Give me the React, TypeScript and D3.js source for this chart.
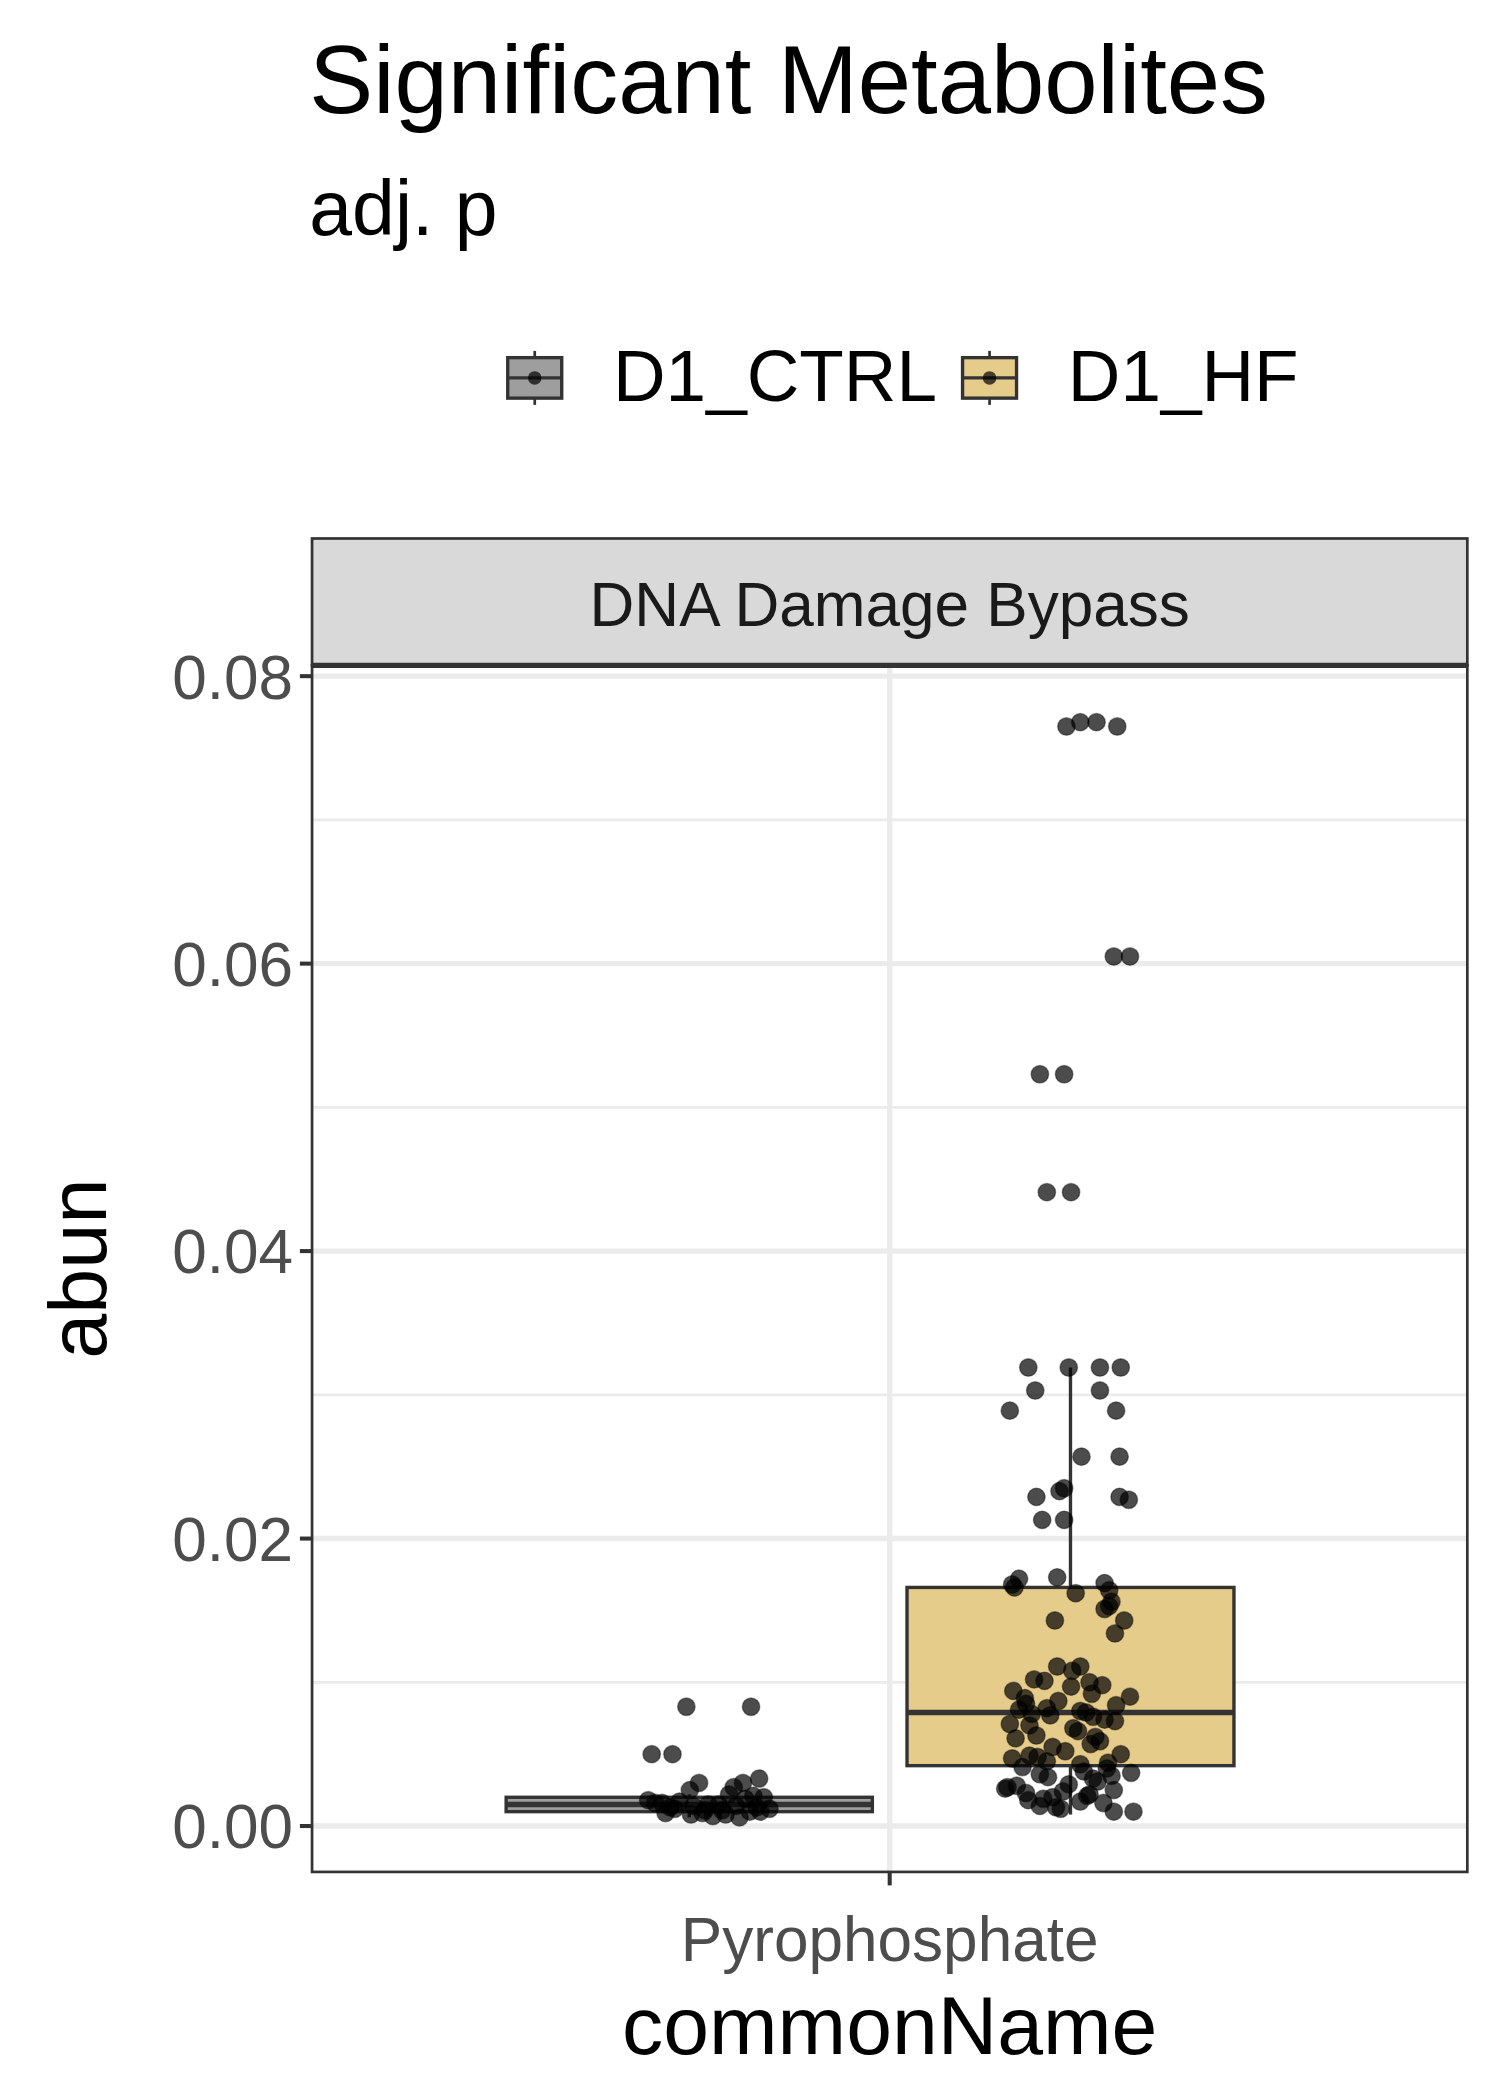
import React from "react";
import * as d3 from "d3";

const groups = ["D1_CTRL", "D1_HF"];
const colors = ["#9e9e9e", "#e6cc8a"];
const boxOffsets = [[-0.332, -0.015], [0.015, 0.298]];
// q1, median, q3, whiskerLow, whiskerHigh
const boxStats = [[0.001, 0.0015, 0.002, 0.0006, 0.0022], [0.0042, 0.0079, 0.0166, 0.0008, 0.0319]];
const yTicks = [0, 0.02, 0.04, 0.06, 0.08];
const yMinor = [0.01, 0.03, 0.05, 0.07];

const ctrlVals = [0.0083,0.0083,0.005,0.005,0.003,0.003,0.0033,0.0025,0.0022,0.002,0.0018,0.0016,0.0015,0.0014,0.0012,0.0011,0.001,0.0009,0.0008,0.0007,0.0006,0.0012,0.0017,0.0009,0.0013,0.0016,0.0014,0.0011,0.0019,0.0008,0.0021,0.0013,0.0027,0.0010,0.0015];
const ctrlJit = [-0.176,-0.12,-0.206,-0.188,-0.165,-0.127,-0.113,-0.173,-0.139,-0.109,-0.209,-0.197,-0.157,-0.133,-0.186,-0.145,-0.121,-0.194,-0.172,-0.153,-0.13,-0.104,-0.182,-0.162,-0.115,-0.203,-0.17,-0.16,-0.125,-0.142,-0.118,-0.19,-0.135,-0.112,-0.148];
const hfVals = [0.0765,0.0768,0.0768,0.0765,0.0605,0.0605,0.0523,0.0523,0.0441,0.0441,0.0319,0.0319,0.0319,0.0319,0.0303,0.0303,0.0289,0.0289,0.0257,0.0257,0.0233,0.0235,0.0229,0.0229,0.0227,0.0213,0.0213,0.0173,0.0172,0.0168,0.0169,0.0164,0.0156,0.0151,0.0143,0.0143,0.0134,0.0111,0.0111,0.0102,0.01,0.0097,0.0094,0.0092,0.009,0.0085,0.0082,0.008,0.0078,0.0076,0.0073,0.0071,0.0068,0.0063,0.0059,0.0055,0.005,0.0047,0.0045,0.0043,0.004,0.0036,0.0033,0.0029,0.0026,0.0023,0.002,0.0017,0.0014,0.0012,0.001,0.001,0.0025,0.0037,0.0021,0.0018,0.0166,0.0162,0.0153,0.0108,0.0101,0.0098,0.0089,0.0087,0.0084,0.0081,0.0079,0.0077,0.0074,0.0070,0.0066,0.0061,0.0057,0.0052,0.0048,0.0044,0.0041,0.0038,0.0034,0.0031,0.0028,0.0024,0.0022,0.0019,0.0016,0.0013,0.0027,0.0035,0.0049,0.0062];
const hfJit = [0.153,0.165,0.179,0.197,0.194,0.208,0.13,0.151,0.136,0.157,0.12,0.155,0.182,0.2,0.126,0.182,0.104,0.196,0.166,0.199,0.147,0.151,0.127,0.199,0.207,0.132,0.151,0.145,0.112,0.106,0.186,0.19,0.192,0.186,0.143,0.203,0.195,0.145,0.165,0.125,0.173,0.157,0.107,0.175,0.208,0.118,0.136,0.165,0.123,0.176,0.195,0.104,0.159,0.127,0.182,0.141,0.2,0.106,0.136,0.165,0.188,0.13,0.176,0.155,0.1,0.118,0.141,0.165,0.13,0.148,0.194,0.211,0.194,0.209,0.171,0.12,0.108,0.161,0.19,0.158,0.134,0.184,0.117,0.146,0.196,0.112,0.17,0.139,0.186,0.121,0.163,0.109,0.174,0.152,0.128,0.189,0.115,0.168,0.137,0.18,0.11,0.15,0.173,0.133,0.185,0.144,0.102,0.192,0.121,0.178];

export default function App() {
  const L = 231, R = 1087, T = 493, B = 1387;
  const y = d3.scaleLinear().domain([0, 0.08]).range([1353, 501]);
  const x = d3.scaleLinear().domain([-0.5, 0.5]).range([L, R]);
  const font = "Liberation Sans, Arial, Helvetica, sans-serif";
  const pts = [
    ...ctrlVals.map((v, i) => ({ v, j: ctrlJit[i] })),
    ...hfVals.map((v, i) => ({ v, j: hfJit[i] })),
  ];
  return (
    <svg width={1500} height={2100} viewBox="0 0 1111 1556" style={{ display: "block", margin: -8 }} fontFamily={font}>
      <rect width={1111} height={1556} fill="#fff" />
      <text x={229} y={84} fontSize={71}>Significant Metabolites</text>
      <text x={229} y={174} fontSize={57}>adj. p</text>
      {groups.map((g, i) => {
        const kx = i === 0 ? 376 : 713;
        return (
          <g key={g}>
            <line x1={kx + 20} x2={kx + 20} y1={260} y2={300} stroke="#333" strokeWidth={2} />
            <rect x={kx} y={265} width={40} height={30} fill={colors[i]} stroke="#333" strokeWidth={2.5} />
            <line x1={kx} x2={kx + 40} y1={280} y2={280} stroke="#333" strokeWidth={2.5} />
            <circle cx={kx + 20} cy={280} r={5} fill="#000" fillOpacity={0.7} />
            <text x={kx + 78} y={297} fontSize={54}>{g}</text>
          </g>
        );
      })}
      <rect x={L} y={399} width={R - L} height={T - 399} fill="#d9d9d9" stroke="#333" strokeWidth={2} />
      <text x={(L + R) / 2} y={464} fontSize={46} textAnchor="middle" fill="#1a1a1a">DNA Damage Bypass</text>
      {yMinor.map(t => <line key={t} x1={L} x2={R} y1={y(t)} y2={y(t)} stroke="#ebebeb" strokeWidth={2} />)}
      {yTicks.map(t => <line key={t} x1={L} x2={R} y1={y(t)} y2={y(t)} stroke="#ebebeb" strokeWidth={4} />)}
      <line x1={x(0)} x2={x(0)} y1={T} y2={B} stroke="#ebebeb" strokeWidth={4} />
      {groups.map((g, i) => {
        const [q1, med, q3, wl, wh] = boxStats[i];
        const [a, b] = boxOffsets[i];
        const cx = x((a + b) / 2);
        return (
          <g key={g}>
            <line x1={cx} x2={cx} y1={y(q3)} y2={y(wh)} stroke="#333" strokeWidth={2.5} />
            <line x1={cx} x2={cx} y1={y(q1)} y2={y(wl)} stroke="#333" strokeWidth={2.5} />
            <rect x={x(a)} y={y(q3)} width={x(b) - x(a)} height={y(q1) - y(q3)} fill={colors[i]} stroke="#333" strokeWidth={2.5} />
            <line x1={x(a)} x2={x(b)} y1={y(med)} y2={y(med)} stroke="#333" strokeWidth={4} />
          </g>
        );
      })}
      {pts.map((p, i) => (
        <circle key={i} cx={x(p.j)} cy={y(p.v)} r={6.5} fill="#000" fillOpacity={0.7} stroke="#000" strokeOpacity={0.4} strokeWidth={1} />
      ))}
      <rect x={L} y={T} width={R - L} height={B - T} fill="none" stroke="#333" strokeWidth={2} />
      <line x1={L} x2={R} y1={T} y2={T} stroke="#333" strokeWidth={4} />
      {yTicks.map(t => (
        <g key={t}>
          <line x1={L - 9} x2={L} y1={y(t)} y2={y(t)} stroke="#333" strokeWidth={3} />
          <text x={L - 14} y={y(t)} dy="0.36em" fontSize={46} textAnchor="end" fill="#4d4d4d">{t.toFixed(2)}</text>
        </g>
      ))}
      <line x1={x(0)} x2={x(0)} y1={B} y2={B + 10} stroke="#333" strokeWidth={3} />
      <text x={x(0)} y={1453} fontSize={46} textAnchor="middle" fill="#4d4d4d">Pyrophosphate</text>
      <text x={x(0)} y={1522} fontSize={61} textAnchor="middle">commonName</text>
      <text transform={`translate(78,${(T + B) / 2}) rotate(-90)`} fontSize={60} textAnchor="middle">abun</text>
    </svg>
  );
}
